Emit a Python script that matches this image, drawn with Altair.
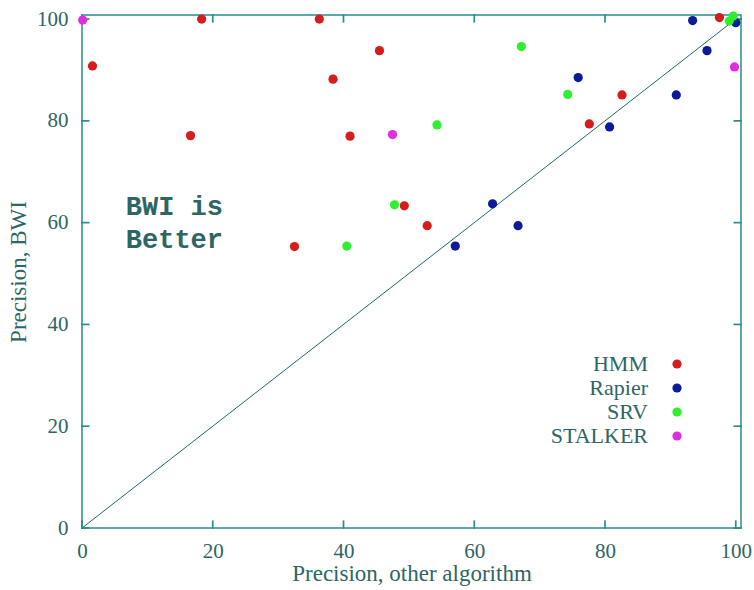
import altair as alt
import pandas as pd

# ---- data ----
series_names = ["HMM", "Rapier", "SRV", "STALKER"]
hmm_x = [1.6, 18.3, 16.6, 36.3, 45.5, 38.4, 41.0, 49.3, 52.8, 32.5, 82.6, 77.6, 97.5]
hmm_y = [90.8, 100.0, 77.1, 100.0, 93.8, 88.2, 77.0, 63.3, 59.4, 55.3, 85.1, 79.4, 100.3]
rapier_x = [57.1, 62.8, 66.7, 80.7, 75.9, 90.9, 95.6, 93.4, 100.0]
rapier_y = [55.4, 63.7, 59.4, 78.8, 88.5, 85.1, 93.8, 99.7, 99.3]
srv_x = [40.5, 47.8, 54.3, 74.3, 67.2, 99.0, 99.6]
srv_y = [55.4, 63.5, 79.2, 85.2, 94.6, 99.6, 100.6]
stalker_x = [0.1, 47.5, 99.8]
stalker_y = [99.8, 77.3, 90.6]
series_colors = ["#d61d1d", "#0c1a9c", "#2ef02e", "#e22ce2"]

tick_values = [0, 20, 40, 60, 80, 100]
diag_values = [0, 100]
annotation = ["BWI is", "Better"]

x_title = "Precision, other algorithm"
y_title = "Precision, BWI"

# ---- tables ----
rows = []
for name, xs_, ys_ in [("HMM", hmm_x, hmm_y), ("Rapier", rapier_x, rapier_y),
                       ("SRV", srv_x, srv_y), ("STALKER", stalker_x, stalker_y)]:
    for a, b in zip(xs_, ys_):
        rows.append({"series": name, "other": a, "bwi": b})
points_df = pd.DataFrame(rows)
diag_df = pd.DataFrame({"other": diag_values, "bwi": diag_values})
ticks_df = pd.DataFrame({"t": tick_values})
legend_df = pd.DataFrame({"series": series_names})

DMAX = 100.8
TEXT = "#2d6664"
LINE = "#2a8c8c"
FONT = "Liberation Serif"

xs = alt.Scale(domain=[0, DMAX], nice=False, zero=False)
ys = alt.Scale(domain=[0, DMAX], nice=False, zero=False)
color_scale = alt.Scale(domain=series_names, range=series_colors)

x_axis = alt.Axis(values=tick_values, title=x_title, grid=False, domain=False, ticks=False,
                  labelFont=FONT, labelFontSize=21, labelColor=TEXT, labelPadding=12,
                  titleFont=FONT, titleFontSize=23, titleFontWeight="normal", titleColor=TEXT,
                  titlePadding=1, labelFlush=False)
y_axis = alt.Axis(values=tick_values, title=y_title, grid=False, domain=False, ticks=False,
                  labelFont=FONT, labelFontSize=21, labelColor=TEXT, labelPadding=14,
                  titleFont=FONT, titleFontSize=23, titleFontWeight="normal", titleColor=TEXT,
                  titlePadding=6, labelFlush=False)

diag = alt.Chart(diag_df).mark_line(color="#1f6a6a", strokeWidth=1).encode(
    x=alt.X("other:Q", scale=xs, axis=x_axis),
    y=alt.Y("bwi:Q", scale=ys, axis=y_axis),
)

# inward, mirrored tick marks (gnuplot style), placed through the data scales
TX = 1.15
TY = 1.5
tick_calc = dict(lo="-0.15", hi=str(DMAX + 0.15), blo=str(TY), bhi=str(DMAX - TY),
                 xlo=str(TX), xhi=str(DMAX - TX))
ticks_base = alt.Chart(ticks_df).transform_calculate(**tick_calc)
bottom_ticks = ticks_base.mark_rule(color=LINE, strokeWidth=1.7).encode(
    x=alt.X("t:Q", scale=xs), y=alt.Y("blo:Q", scale=ys), y2="lo:Q")
top_ticks = ticks_base.mark_rule(color=LINE, strokeWidth=1.7).encode(
    x=alt.X("t:Q", scale=xs), y=alt.Y("hi:Q", scale=ys), y2="bhi:Q")
left_ticks = ticks_base.mark_rule(color=LINE, strokeWidth=1.7).encode(
    y=alt.Y("t:Q", scale=ys), x=alt.X("xlo:Q", scale=xs), x2="lo:Q")
right_ticks = ticks_base.mark_rule(color=LINE, strokeWidth=1.7).encode(
    y=alt.Y("t:Q", scale=ys), x=alt.X("hi:Q", scale=xs), x2="xhi:Q")

pts = alt.Chart(points_df).mark_circle(size=85, opacity=1).encode(
    x=alt.X("other:Q", scale=xs),
    y=alt.Y("bwi:Q", scale=ys),
    color=alt.Color("series:N", scale=color_scale, legend=None),
)

note = alt.Chart(pd.DataFrame({"txt": ["\n".join(annotation)]})).mark_text(
    font="Liberation Mono", fontSize=27, fontWeight="bold", color=TEXT,
    align="left", baseline="alphabetic", lineBreak="\n", lineHeight=33,
).encode(x=alt.datum(6.7), y=alt.datum(61.5), text="txt:N")

main = alt.layer(diag, bottom_ticks, top_ticks, left_ticks, right_ticks, pts, note)

# legend: labels on the left, symbols on the right (gnuplot style)
leg_y = alt.Y("series:N", scale=alt.Scale(domain=series_names, range=[349, 421], padding=0),
              axis=None)
leg_sym = alt.Chart(legend_df).mark_circle(size=85, opacity=1).encode(
    x=alt.value(595), y=leg_y,
    color=alt.Color("series:N", scale=color_scale, legend=None),
)
leg_txt = alt.Chart(legend_df).mark_text(
    font=FONT, fontSize=22, color=TEXT, align="right", baseline="middle"
).encode(x=alt.value(566), y=leg_y, text="series:N")
legend = alt.layer(leg_sym, leg_txt)

chart = alt.layer(main, legend).resolve_scale(y="independent").properties(
    width=659, height=513,
    autosize=alt.AutoSizeParams(type="none"),
    padding={"left": 82, "top": 15, "right": 13, "bottom": 62},
    background="white",
).configure_view(stroke=LINE, strokeWidth=1.5)

chart.save("out.html", embed_options={"renderer": "svg", "actions": False})
